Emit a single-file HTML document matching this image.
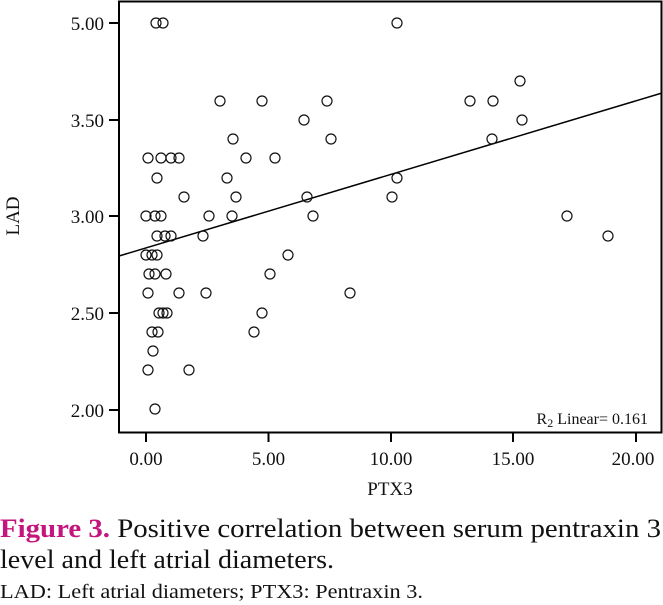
<!DOCTYPE html>
<html><head><style>
body{margin:0;background:#fff;width:663px;height:605px;overflow:hidden}
</style></head><body>
<svg width="663" height="605" xmlns="http://www.w3.org/2000/svg" style="position:absolute;left:0;top:0">
<g font-family="Liberation Serif, serif" font-size="19" fill="#111">
<rect x="119" y="1.5" width="542.5" height="431" fill="none" stroke="#000" stroke-width="2"/>
<g stroke="#000" stroke-width="2">
<line x1="109" y1="23" x2="119" y2="23"/><line x1="109" y1="120" x2="119" y2="120"/>
<line x1="109" y1="216" x2="119" y2="216"/><line x1="109" y1="313" x2="119" y2="313"/>
<line x1="109" y1="410" x2="119" y2="410"/>
<line x1="146" y1="432" x2="146" y2="442"/><line x1="268.5" y1="432" x2="268.5" y2="442"/>
<line x1="391" y1="432" x2="391" y2="442"/><line x1="513" y1="432" x2="513" y2="442"/>
<line x1="636" y1="432" x2="636" y2="442"/>
</g>
<g text-anchor="end">
<text x="104" y="30">5.00</text><text x="104" y="127">3.50</text><text x="104" y="223">3.00</text>
<text x="104" y="320">2.50</text><text x="104" y="417">2.00</text>
</g>
<g text-anchor="middle">
<text x="146" y="465">0.00</text><text x="268.5" y="465">5.00</text><text x="391" y="465">10.00</text>
<text x="513" y="465">15.00</text><text x="633" y="465">20.00</text>
<text x="390" y="495">PTX3</text>
<text transform="translate(19,216) rotate(-90)">LAD</text>
</g>
<text x="648" y="424" text-anchor="end" font-size="16">R<tspan font-size="12" dy="3">2</tspan><tspan dy="-3"> Linear= 0.161</tspan></text>
<line x1="119" y1="256" x2="662" y2="93" stroke="#000" stroke-width="1.5"/>
<g fill="none" stroke="#111" stroke-width="1.2">
<circle cx="156" cy="23" r="5"/><circle cx="163" cy="23" r="5"/><circle cx="397" cy="23" r="5"/>
<circle cx="520" cy="81" r="5"/>
<circle cx="220" cy="101" r="5"/><circle cx="262" cy="101" r="5"/><circle cx="327" cy="101" r="5"/><circle cx="470" cy="101" r="5"/><circle cx="493" cy="101" r="5"/>
<circle cx="304" cy="120" r="5"/><circle cx="522" cy="120" r="5"/>
<circle cx="233" cy="139" r="5"/><circle cx="331" cy="139" r="5"/><circle cx="492" cy="139" r="5"/>
<circle cx="148" cy="158" r="5"/><circle cx="161" cy="158" r="5"/><circle cx="171" cy="158" r="5"/><circle cx="179" cy="158" r="5"/><circle cx="246" cy="158" r="5"/><circle cx="275" cy="158" r="5"/>
<circle cx="157" cy="178" r="5"/><circle cx="227" cy="178" r="5"/><circle cx="397" cy="178" r="5"/>
<circle cx="184" cy="197" r="5"/><circle cx="236" cy="197" r="5"/><circle cx="307" cy="197" r="5"/><circle cx="392" cy="197" r="5"/>
<circle cx="146" cy="216" r="5"/><circle cx="155" cy="216" r="5"/><circle cx="161" cy="216" r="5"/><circle cx="209" cy="216" r="5"/><circle cx="232" cy="216" r="5"/><circle cx="313" cy="216" r="5"/><circle cx="567" cy="216" r="5"/>
<circle cx="157" cy="236" r="5"/><circle cx="165" cy="236" r="5"/><circle cx="171" cy="236" r="5"/><circle cx="203" cy="236" r="5"/><circle cx="608" cy="236" r="5"/>
<circle cx="146" cy="255" r="5"/><circle cx="152" cy="255" r="5"/><circle cx="157" cy="255" r="5"/><circle cx="288" cy="255" r="5"/>
<circle cx="149" cy="274" r="5"/><circle cx="155" cy="274" r="5"/><circle cx="166" cy="274" r="5"/><circle cx="270" cy="274" r="5"/>
<circle cx="148" cy="293" r="5"/><circle cx="179" cy="293" r="5"/><circle cx="206" cy="293" r="5"/><circle cx="350" cy="293" r="5"/>
<circle cx="159" cy="313" r="5"/><circle cx="163" cy="313" r="5"/><circle cx="167" cy="313" r="5"/><circle cx="262" cy="313" r="5"/>
<circle cx="152" cy="332" r="5"/><circle cx="158" cy="332" r="5"/><circle cx="254" cy="332" r="5"/>
<circle cx="153" cy="351" r="5"/>
<circle cx="148" cy="370" r="5"/><circle cx="189" cy="370" r="5"/>
<circle cx="155" cy="409" r="5"/>
</g>
<text x="0" y="537" font-size="26" textLength="661" lengthAdjust="spacingAndGlyphs"><tspan fill="#c4157e" font-weight="bold">Figure 3.</tspan> Positive correlation between serum pentraxin 3</text>
<text x="0" y="568" font-size="26" textLength="334" lengthAdjust="spacingAndGlyphs">level and left atrial diameters.</text>
<text x="0" y="598" font-size="20" textLength="423" lengthAdjust="spacingAndGlyphs">LAD: Left atrial diameters; PTX3: Pentraxin 3.</text>
</g>
</svg>
</body></html>
